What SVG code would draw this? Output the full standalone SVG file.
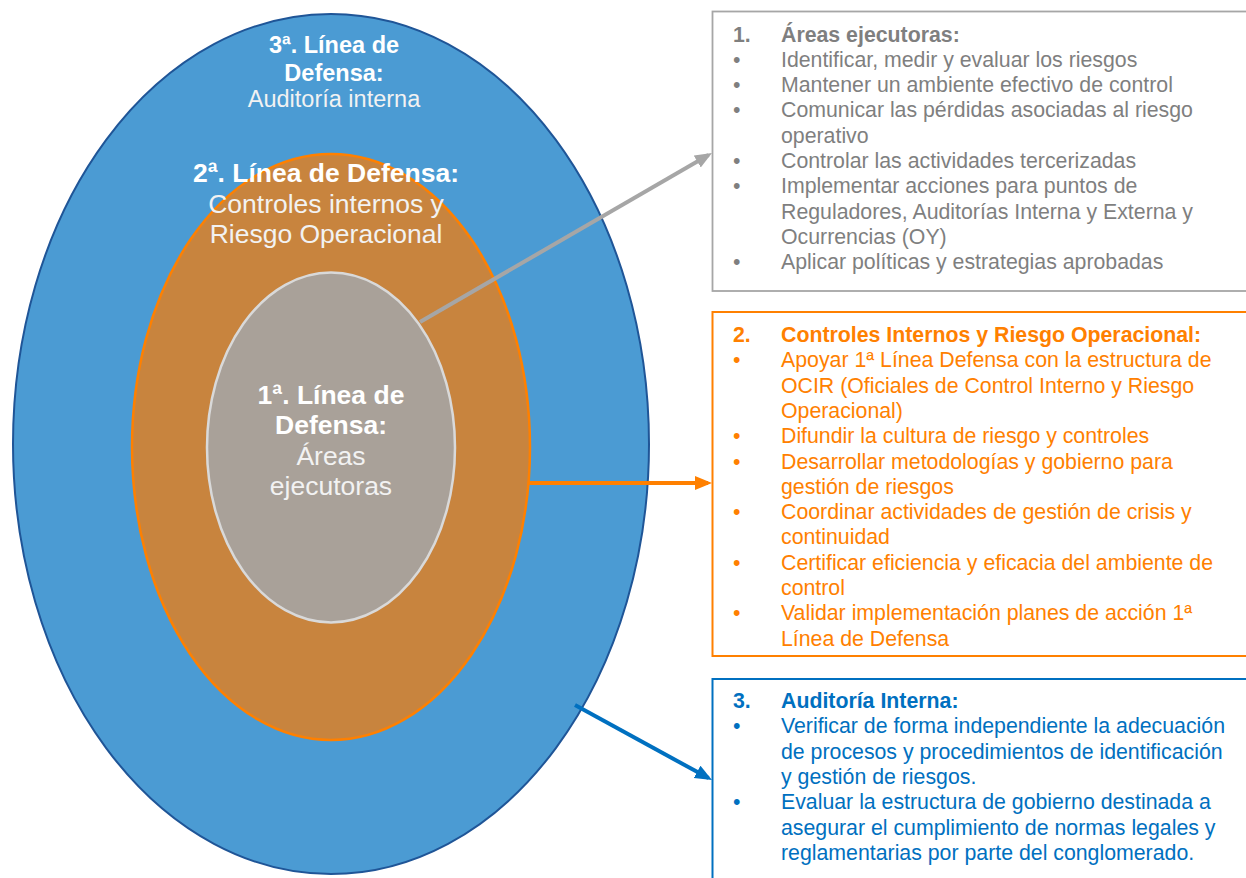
<svg xmlns="http://www.w3.org/2000/svg" width="1246" height="878" viewBox="0 0 1246 878">
<style>
text{font-family:"Liberation Sans",Arial,sans-serif}
.b{font-weight:bold}
.ct{text-anchor:middle;fill:#F2F2F2}
.ct.b{fill:#FFFFFF}
.t1{font-size:21.3px;fill:#7F7F7F}
.t2{font-size:21.3px;fill:#FF8000}
.t3{font-size:21.3px;fill:#0070C0}
.box{fill:#FFFFFF}
</style>
<defs>
<marker id="ahG" markerUnits="userSpaceOnUse" markerWidth="18" markerHeight="15" refX="13" refY="7" orient="auto"><path d="M0,0 L17,7 L0,14 z" fill="#A6A6A6"/></marker>
<marker id="ahO" markerUnits="userSpaceOnUse" markerWidth="18" markerHeight="15" refX="13" refY="7" orient="auto"><path d="M0,0 L17,7 L0,14 z" fill="#FF8000"/></marker>
<marker id="ahB" markerUnits="userSpaceOnUse" markerWidth="18" markerHeight="15" refX="13" refY="7" orient="auto"><path d="M0,0 L17,7 L0,14 z" fill="#0070C0"/></marker>
</defs>

<g id="ring3">
<ellipse cx="331" cy="444" rx="318" ry="430" fill="#4B9BD3" stroke="#1F5597" stroke-width="2"/>
</g>
<g id="ring2">
<ellipse cx="331" cy="447" rx="199" ry="293" fill="#C8843E" stroke="#FF8000" stroke-width="2.5"/>
</g>
<g id="ring1">
<ellipse cx="331" cy="447.5" rx="124" ry="175" fill="#A9A199" stroke="#D9D9D9" stroke-width="2.5"/>
</g>

<g id="connectors" fill="none" stroke-width="4">
<line x1="420" y1="322" x2="708.5" y2="155" stroke="#A6A6A6" marker-end="url(#ahG)"/>
<line x1="528" y1="483" x2="708" y2="483" stroke="#FF8000" marker-end="url(#ahO)"/>
<line x1="575" y1="705" x2="708.5" y2="778.1" stroke="#0070C0" marker-end="url(#ahB)"/>
</g>

<g id="ring3-label">
<text class="ct b" x="334" y="53" font-size="23.5">3ª. Línea de</text>
<text class="ct b" x="334" y="80.5" font-size="23.5">Defensa:</text>
<text class="ct" x="334" y="107" font-size="23.5">Auditoría interna</text>
</g>
<g id="ring2-label">
<text class="ct b" x="326" y="182" font-size="26.5">2ª. Línea de Defensa:</text>
<text class="ct" x="326" y="212.5" font-size="26.5">Controles internos y</text>
<text class="ct" x="326" y="243" font-size="26.5">Riesgo Operacional</text>
</g>
<g id="ring1-label">
<text class="ct b" x="331" y="404" font-size="26.5">1ª. Línea de</text>
<text class="ct b" x="331" y="434" font-size="26.5">Defensa:</text>
<text class="ct" x="331" y="464.5" font-size="26.5">Áreas</text>
<text class="ct" x="331" y="495" font-size="26.5">ejecutoras</text>
</g>

<g id="box1">
<rect class="box" x="712.5" y="11.5" width="545" height="279.5" stroke="#A6A6A6" stroke-width="1.8"/>
<g class="t1">
<text class="b" x="733" y="41.5">1.</text><text class="b" x="781" y="41.5">Áreas ejecutoras:</text>
<text x="733" y="66.8">•</text><text x="781" y="66.8">Identificar, medir y evaluar los riesgos</text>
<text x="733" y="92.1">•</text><text x="781" y="92.1">Mantener un ambiente efectivo de control</text>
<text x="733" y="117.4">•</text><text x="781" y="117.4">Comunicar las pérdidas asociadas al riesgo</text>
<text x="781" y="142.7">operativo</text>
<text x="733" y="168">•</text><text x="781" y="168">Controlar las actividades tercerizadas</text>
<text x="733" y="193.3">•</text><text x="781" y="193.3">Implementar acciones para puntos de</text>
<text x="781" y="218.6">Reguladores, Auditorías Interna y Externa y</text>
<text x="781" y="243.9">Ocurrencias (OY)</text>
<text x="733" y="269.2">•</text><text x="781" y="269.2">Aplicar políticas y estrategias aprobadas</text>
</g>
</g>

<g id="box2">
<rect class="box" x="712.5" y="312" width="545" height="344" stroke="#FF8000" stroke-width="2"/>
<g class="t2">
<text class="b" x="733" y="342">2.</text><text class="b" x="781" y="342">Controles Internos y Riesgo Operacional:</text>
<text x="733" y="367.3">•</text><text x="781" y="367.3">Apoyar 1ª Línea Defensa con la estructura de</text>
<text x="781" y="392.6">OCIR (Oficiales de Control Interno y Riesgo</text>
<text x="781" y="417.9">Operacional)</text>
<text x="733" y="443.2">•</text><text x="781" y="443.2">Difundir la cultura de riesgo y controles</text>
<text x="733" y="468.5">•</text><text x="781" y="468.5">Desarrollar metodologías y gobierno para</text>
<text x="781" y="493.8">gestión de riesgos</text>
<text x="733" y="519.1">•</text><text x="781" y="519.1">Coordinar actividades de gestión de crisis y</text>
<text x="781" y="544.4">continuidad</text>
<text x="733" y="569.7">•</text><text x="781" y="569.7">Certificar eficiencia y eficacia del ambiente de</text>
<text x="781" y="595">control</text>
<text x="733" y="620.3">•</text><text x="781" y="620.3">Validar implementación planes de acción 1ª</text>
<text x="781" y="645.6">Línea de Defensa</text>
</g>
</g>

<g id="box3">
<rect class="box" x="712.5" y="679" width="545" height="220" stroke="#0070C0" stroke-width="2"/>
<g class="t3">
<text class="b" x="733" y="708">3.</text><text class="b" x="781" y="708">Auditoría Interna:</text>
<text x="733" y="733.3">•</text><text x="781" y="733.3">Verificar de forma independiente la adecuación</text>
<text x="781" y="758.6">de procesos y procedimientos de identificación</text>
<text x="781" y="783.9">y gestión de riesgos.</text>
<text x="733" y="809.2">•</text><text x="781" y="809.2">Evaluar la estructura de gobierno destinada a</text>
<text x="781" y="834.5">asegurar el cumplimiento de normas legales y</text>
<text x="781" y="859.8">reglamentarias por parte del conglomerado.</text>
</g>
</g>
</svg>
